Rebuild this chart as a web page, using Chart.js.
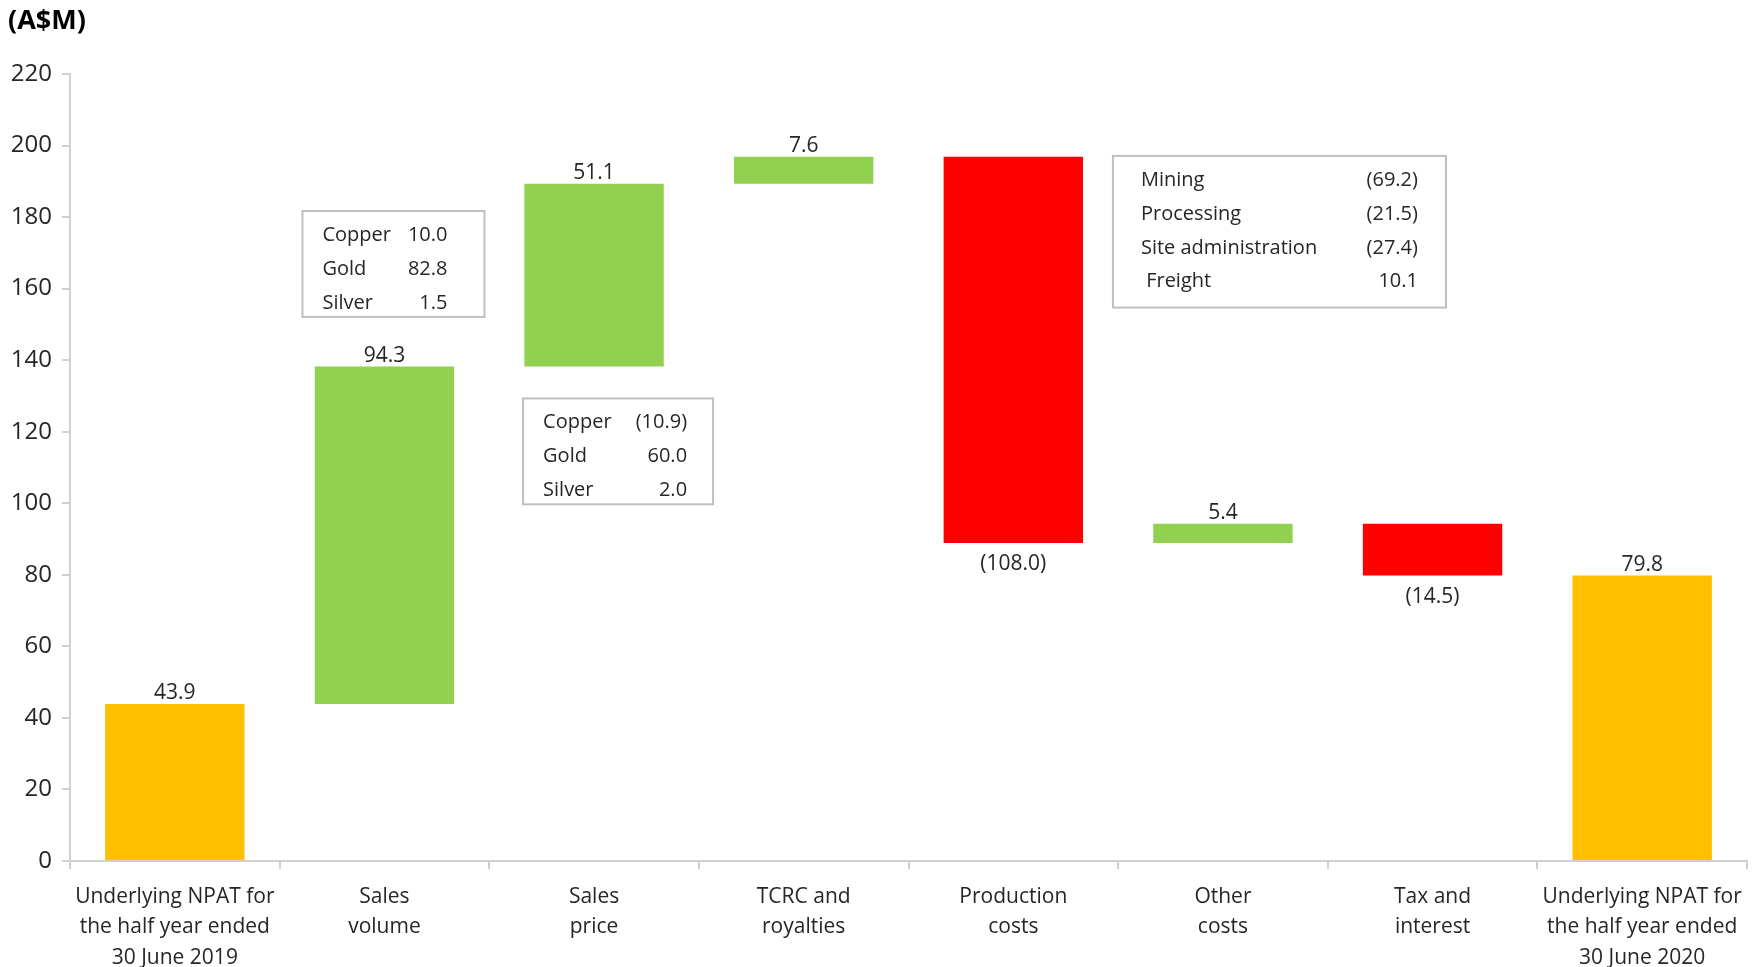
<!DOCTYPE html>
<html>
<head>
<meta charset="utf-8">
<script src="https://cdn.jsdelivr.net/npm/chart.js@4.4.1/dist/chart.umd.min.js"></script>
<style>
  html, body { margin: 0; padding: 0; background: #fff; }
  #wrap { position: relative; width: 1760px; height: 967px; }
  #unit { position: absolute; left: 8px; top: 0px; font: bold 27px "Open Sans", sans-serif; color: #000; }
</style>
</head>
<body>
<div id="wrap">
  <div id="unit">(A$M)</div>
  <canvas id="npat" width="1760" height="967"></canvas>
</div>
<script>
const categories = [
  ['Underlying NPAT for', 'the half year ended', '30 June 2019'],
  ['Sales', 'volume'],
  ['Sales', 'price'],
  ['TCRC and', 'royalties'],
  ['Production', 'costs'],
  ['Other', 'costs'],
  ['Tax and', 'interest'],
  ['Underlying NPAT for', 'the half year ended', '30 June 2020']
];
const openingNpat = 43.9;
const movements = [94.3, 51.1, 7.6, -108.0, 5.4, -14.5];
const closingNpat = 79.8;

const yMin = 0;
const yMax = 220;
const yStep = 20;

// breakdown tables shown next to some of the bars
const volumeNotes = [['Copper', '10.0'], ['Gold', '82.8'], ['Silver', '1.5']];
const priceNotes = [['Copper', '(10.9)'], ['Gold', '60.0'], ['Silver', '2.0']];
const costNotes = [['Mining', '(69.2)'], ['Processing', '(21.5)'], ['Site administration', '(27.4)'], [' Freight', '10.1']];

const FONT = '"Open Sans", sans-serif';
const TEXT = '#262626';
const ORANGE = '#FFC000';
const GREEN = '#92D050';
const RED = '#FF0000';

// build floating bars [from, to] plus the signed value each one shows
const bars = [[0, openingNpat]];
const shown = [openingNpat];
const colors = [ORANGE];
let running = openingNpat;
movements.forEach(m => {
  bars.push([running, running + m]);
  shown.push(m);
  colors.push(m >= 0 ? GREEN : RED);
  running += m;
});
bars.push([0, closingNpat]);
shown.push(closingNpat);
colors.push(ORANGE);

const fmt = v => v < 0 ? '(' + Math.abs(v).toFixed(1) + ')' : v.toFixed(1);

// note boxes: anchored on a category and a y range, offsets in px from the category centre
const noteBoxes = [
  { rows: volumeNotes, index: 1, top: 181.7, bottom: 152.1, left: -82, right: 100, textIn: 20, valueIn: 37 },
  { rows: priceNotes, index: 2, top: 129.3, bottom: 99.7, left: -71, right: 119, textIn: 20, valueIn: 26 },
  { rows: costNotes, index: 5, top: 197.1, bottom: 154.7, left: -110, right: 223, textIn: 28, valueIn: 28 }
];
const NOTE_ROW = 33.8;

const barLabels = {
  id: 'barLabels',
  afterDatasetsDraw(chart) {
    const ctx = chart.ctx;
    ctx.save();
    ctx.font = '21px ' + FONT;
    ctx.fillStyle = TEXT;
    ctx.textAlign = 'center';
    chart.getDatasetMeta(0).data.forEach((bar, i) => {
      const top = Math.min(bar.y, bar.base);
      const bottom = Math.max(bar.y, bar.base);
      if (shown[i] >= 0) {
        ctx.textBaseline = 'bottom';
        ctx.fillText(fmt(shown[i]), bar.x, top);
      } else {
        ctx.textBaseline = 'top';
        ctx.fillText(fmt(shown[i]), bar.x, bottom + 11);
      }
    });
    ctx.restore();
  }
};

const notes = {
  id: 'notes',
  afterDraw(chart) {
    const ctx = chart.ctx;
    const xs = chart.scales.x;
    const ys = chart.scales.y;
    ctx.save();
    noteBoxes.forEach(b => {
      const cx = xs.getPixelForValue(b.index);
      const x0 = cx + b.left;
      const x1 = cx + b.right;
      const y0 = ys.getPixelForValue(b.top);
      const y1 = ys.getPixelForValue(b.bottom);
      ctx.fillStyle = '#fff';
      ctx.fillRect(x0, y0, x1 - x0, y1 - y0);
      ctx.strokeStyle = '#BFBFBF';
      ctx.lineWidth = 2;
      ctx.strokeRect(x0, y0, x1 - x0, y1 - y0);
      ctx.font = '20px ' + FONT;
      ctx.fillStyle = TEXT;
      ctx.textBaseline = 'alphabetic';
      b.rows.forEach((r, k) => {
        const base = y0 + 30 + k * NOTE_ROW;
        ctx.textAlign = 'left';
        ctx.fillText(r[0], x0 + b.textIn, base);
        ctx.textAlign = 'right';
        ctx.fillText(r[1], x1 - b.valueIn, base);
      });
    });
    ctx.restore();
  }
};

new Chart(document.getElementById('npat'), {
  type: 'bar',
  data: {
    labels: categories,
    datasets: [{
      data: bars,
      backgroundColor: colors,
      borderWidth: 0,
      barPercentage: 0.665,
      categoryPercentage: 1
    }]
  },
  options: {
    responsive: false,
    animation: false,
    layout: { padding: { top: 74, right: 13, bottom: 0, left: 0 } },
    plugins: {
      legend: { display: false },
      tooltip: { enabled: false }
    },
    scales: {
      x: {
        afterFit(scale) { scale.height = 106; },
        border: { color: '#D0D0D0', width: 2 },
        grid: { drawOnChartArea: false, tickLength: 8, color: '#D0D0D0', lineWidth: 2 },
        ticks: { color: TEXT, font: { family: FONT, size: 21, lineHeight: 1.44 }, padding: 13, maxRotation: 0, autoSkip: false }
      },
      y: {
        min: yMin,
        max: yMax,
        afterFit(scale) { scale.width = 70; },
        border: { color: '#D0D0D0', width: 2 },
        grid: { drawOnChartArea: false, tickLength: 8, color: '#D0D0D0', lineWidth: 2 },
        ticks: { stepSize: yStep, color: TEXT, font: { family: FONT, size: 24 }, padding: 10 }
      }
    }
  },
  plugins: [barLabels, notes]
});
</script>
</body>
</html>
